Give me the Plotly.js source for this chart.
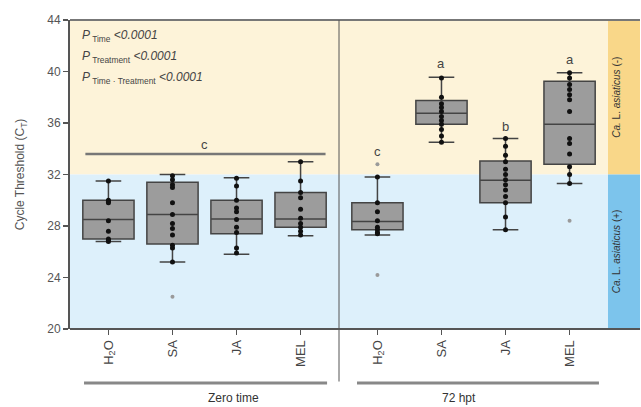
<!DOCTYPE html>
<html>
<head>
<meta charset="utf-8">
<script src="https://cdn.plot.ly/plotly-3.0.1.min.js"></script>
<style>html,body{margin:0;padding:0;background:#fff}#chart{width:641px;height:407px}</style>
</head>
<body>
<div id="chart"></div>
<script>
// ---- data ----
const categories = ['H<sub>2</sub>O', 'SA', 'JA', 'MEL'];
const groupLabels = ['Zero time', '72 hpt'];

// Zero time box statistics
const zeroQ1 = [27.0, 26.6, 27.4, 27.9];
const zeroMedian = [28.5, 28.9, 28.55, 28.55];
const zeroQ3 = [30.0, 31.4, 30.0, 30.6];
const zeroLower = [26.8, 25.2, 25.8, 27.25];
const zeroUpper = [31.5, 32.0, 31.75, 33.0];

// 72 hpt box statistics
const hptQ1 = [27.7, 35.9, 29.8, 32.8];
const hptMedian = [28.35, 36.75, 31.55, 35.9];
const hptQ3 = [29.8, 37.75, 33.05, 39.25];
const hptLower = [27.3, 34.5, 27.7, 31.3];
const hptUpper = [31.8, 39.55, 34.8, 39.9];

// individual samples (black dots)
const zeroH2O = [31.5, 30.0, 29.9, 29.8, 28.4, 27.6, 27.0, 26.9, 26.8];
const zeroSA = [31.9, 31.6, 31.2, 31.0, 29.8, 28.9, 28.2, 27.8, 27.3, 26.5, 26.3, 25.2];
const zeroJA = [31.7, 31.1, 30.0, 29.4, 29.1, 28.5, 27.9, 27.5, 26.3, 25.9];
const zeroMEL = [33.0, 31.5, 30.6, 30.2, 29.3, 28.6, 28.2, 27.9, 27.6, 27.3];
const hptH2O = [31.8, 29.8, 29.1, 28.4, 27.9, 27.7, 27.5, 27.4];
const hptSA = [39.5, 38.0, 37.5, 37.2, 36.9, 36.5, 36.2, 35.9, 35.5, 35.0, 34.5];
const hptJA = [34.8, 34.2, 33.5, 33.0, 32.4, 32.0, 31.6, 31.2, 30.8, 30.3, 29.8, 28.7, 27.7];
const hptMEL = [39.9, 39.5, 39.0, 38.6, 38.2, 37.8, 36.9, 34.8, 34.4, 33.6, 32.6, 32.0, 31.3];

// outliers (grey dots)
const zeroOutliers = {cat: ['SA'], val: [22.5]};
const hptOutliers = {cat: ['H<sub>2</sub>O', 'H<sub>2</sub>O', 'MEL'], val: [32.8, 24.2, 28.4]};

// significance letters
const zeroLetter = 'c';
const zeroLetterY = 34.3;
const zeroLineY = 33.6;
const hptLetters = ['c', 'a', 'b', 'a'];
const hptLetterY = [33.75, 40.65, 35.7, 40.9];

const pTexts = [
  '<i>P</i><sub> Time</sub> <i>&lt;0.0001</i>',
  '<i>P</i><sub> Treatment</sub> <i>&lt;0.0001</i>',
  '<i>P</i><sub> Time · Treatment</sub> <i>&lt;0.0001</i>'
];
const stripTexts = ['<i>Ca.</i> L. <i>asiaticus</i> (-)', '<i>Ca.</i> L. <i>asiaticus</i> (+)'];

// ---- build traces ----
const boxStyle = {
  type: 'box', boxpoints: false, width: 0.8, whiskerwidth: 0.5,
  fillcolor: '#9c9c9c', line: {color: '#444', width: 1.5}, hoverinfo: 'skip', showlegend: false
};
const traces = [];
traces.push(Object.assign({}, boxStyle, {
  x: categories, q1: zeroQ1, median: zeroMedian, q3: zeroQ3,
  lowerfence: zeroLower, upperfence: zeroUpper, xaxis: 'x', yaxis: 'y'
}));
traces.push(Object.assign({}, boxStyle, {
  x: categories, q1: hptQ1, median: hptMedian, q3: hptQ3,
  lowerfence: hptLower, upperfence: hptUpper, xaxis: 'x2', yaxis: 'y'
}));

function dots(groups, axis) {
  const xs = [], ys = [];
  groups.forEach((vals, i) => vals.forEach(v => { xs.push(categories[i]); ys.push(v); }));
  return {type: 'scatter', mode: 'markers', x: xs, y: ys, xaxis: axis, yaxis: 'y',
    marker: {color: '#111', size: 5}, hoverinfo: 'skip', showlegend: false};
}
traces.push(dots([zeroH2O, zeroSA, zeroJA, zeroMEL], 'x'));
traces.push(dots([hptH2O, hptSA, hptJA, hptMEL], 'x2'));
traces.push({type: 'scatter', mode: 'markers', x: zeroOutliers.cat, y: zeroOutliers.val, xaxis: 'x', yaxis: 'y',
  marker: {color: '#9a9a9a', size: 4}, hoverinfo: 'skip', showlegend: false});
traces.push({type: 'scatter', mode: 'markers', x: hptOutliers.cat, y: hptOutliers.val, xaxis: 'x2', yaxis: 'y',
  marker: {color: '#9a9a9a', size: 4}, hoverinfo: 'skip', showlegend: false});

// ---- layout ----
const font = {family: 'Liberation Sans, Arial, sans-serif', size: 12, color: '#555'};
const d1 = 269 / 570, d2 = 538 / 570;
const xcommon = {
  type: 'category', range: [-0.6, 3.6], showgrid: false, zeroline: false, showline: false,
  ticks: 'outside', ticklen: 5, tickwidth: 1.5, tickcolor: '#555', tickangle: -90,
  tickfont: {family: font.family, size: 13, color: '#444'}, fixedrange: true
};
const annotations = [];
pTexts.forEach((t, i) => annotations.push({
  xref: 'paper', yref: 'paper', x: 0.018, y: 1 - (16 + i * 21) / 309, xanchor: 'left', yanchor: 'middle',
  text: t, showarrow: false, font: {family: font.family, size: 12, color: '#444'}
}));
annotations.push({xref: 'x', yref: 'y', x: 1.5, y: zeroLetterY, text: zeroLetter, showarrow: false,
  font: {family: font.family, size: 13, color: '#444'}});
hptLetters.forEach((l, i) => annotations.push({xref: 'x2', yref: 'y', x: categories[i], y: hptLetterY[i],
  text: l, showarrow: false, font: {family: font.family, size: 13, color: '#444'}}));
annotations.push({xref: 'paper', yref: 'y', x: (d2 + 1) / 2, y: 38, text: stripTexts[0], textangle: -90,
  showarrow: false, font: {family: font.family, size: 10, color: '#333'}});
annotations.push({xref: 'paper', yref: 'y', x: (d2 + 1) / 2, y: 26, text: stripTexts[1], textangle: -90,
  showarrow: false, font: {family: font.family, size: 10, color: '#333'}});
annotations.push({xref: 'paper', yref: 'paper', x: (0.0246 + 0.451) / 2, y: -0.222, text: groupLabels[0],
  showarrow: false, yanchor: 'middle', font: {family: font.family, size: 12, color: '#333'}});
annotations.push({xref: 'paper', yref: 'paper', x: (0.5035 + 0.928) / 2, y: -0.222, text: groupLabels[1],
  showarrow: false, yanchor: 'middle', font: {family: font.family, size: 12, color: '#333'}});

const shapes = [
  {type: 'rect', xref: 'paper', yref: 'y', x0: 0, x1: d2, y0: 32, y1: 44, fillcolor: '#fdf3d9', line: {width: 0}, layer: 'below'},
  {type: 'rect', xref: 'paper', yref: 'y', x0: 0, x1: d2, y0: 20, y1: 32, fillcolor: '#ddf0fb', line: {width: 0}, layer: 'below'},
  {type: 'rect', xref: 'paper', yref: 'y', x0: d2, x1: 1, y0: 32, y1: 44, fillcolor: '#f9d789', line: {width: 0}, layer: 'below'},
  {type: 'rect', xref: 'paper', yref: 'y', x0: d2, x1: 1, y0: 20, y1: 32, fillcolor: '#7cc4ec', line: {width: 0}, layer: 'below'},
  {type: 'line', xref: 'paper', yref: 'paper', x0: 0, x1: 1, y0: 1, y1: 1, line: {color: '#777', width: 2}},
  {type: 'line', xref: 'paper', yref: 'paper', x0: 0, x1: 1, y0: 0, y1: 0, line: {color: '#555', width: 2}},
  {type: 'line', xref: 'paper', yref: 'paper', x0: d1, x1: d1, y0: -0.17, y1: 1, line: {color: '#555', width: 1}},
  {type: 'line', xref: 'x', yref: 'y', x0: -0.36, x1: 3.39, y0: zeroLineY, y1: zeroLineY, line: {color: '#777', width: 2.5}},
  {type: 'line', xref: 'paper', yref: 'paper', x0: 0.0246, x1: 0.451, y0: -0.175, y1: -0.175, line: {color: '#888', width: 3}},
  {type: 'line', xref: 'paper', yref: 'paper', x0: 0.5035, x1: 0.928, y0: -0.175, y1: -0.175, line: {color: '#888', width: 3}}
];

const layout = {
  width: 641, height: 407,
  margin: {l: 70, r: 1, t: 20, b: 78},
  paper_bgcolor: '#fff', plot_bgcolor: 'rgba(0,0,0,0)',
  font: font, showlegend: false,
  xaxis: Object.assign({}, xcommon, {domain: [0, d1], anchor: 'y'}),
  xaxis2: Object.assign({}, xcommon, {domain: [d1, d2], anchor: 'y'}),
  yaxis: {
    range: [20, 44], dtick: 4, tick0: 20, showgrid: false, zeroline: false,
    showline: true, linecolor: '#555', linewidth: 2,
    ticks: 'outside', ticklen: 5, tickwidth: 1.5, tickcolor: '#555',
    tickfont: {family: font.family, size: 12, color: '#555'},
    title: {text: 'Cycle Threshold (C<sub>T</sub>)', font: {family: font.family, size: 12, color: '#555'}, standoff: 20},
    fixedrange: true
  },
  annotations: annotations,
  shapes: shapes
};

Plotly.newPlot('chart', traces, layout, {displayModeBar: false, staticPlot: true});
</script>
</body>
</html>
